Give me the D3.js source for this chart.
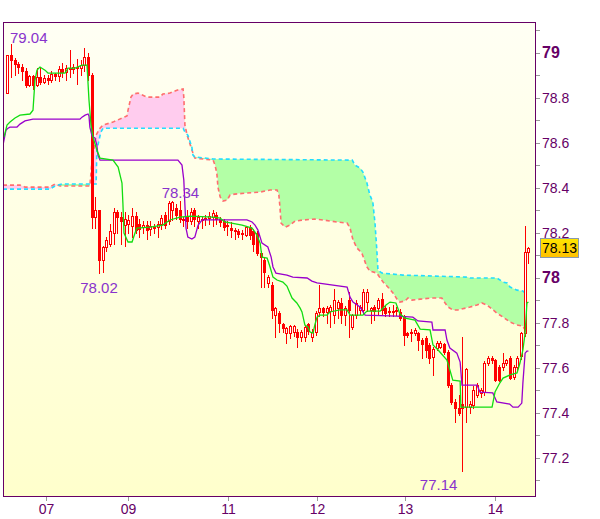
<!DOCTYPE html>
<html><head><meta charset="utf-8">
<script src="https://cdn.jsdelivr.net/npm/d3@7"></script>
<style>body{margin:0;background:#fff;}svg{display:block;font-family:"Liberation Sans",Arial,sans-serif;}</style>
</head><body><svg id="c" width="600" height="519"></svg>
<script>
// ---- DATA ----
const opens=[78.82,78.99,78.965,78.95,78.935,78.92,78.855,78.895,78.855,78.89,78.87,78.885,78.88,78.905,78.895,78.925,78.915,78.93,78.925,78.935,78.93,78.945,78.98,78.90,78.27,78.30,78.078,78.136,78.15,78.20,78.29,78.27,78.235,78.24,78.23,78.275,78.24,78.225,78.235,78.215,78.22,78.225,78.24,78.28,78.25,78.30,78.31,78.30,78.26,78.27,78.25,78.30,78.25,78.26,78.26,78.265,78.27,78.28,78.26,78.25,78.23,78.22,78.21,78.205,78.195,78.19,78.225,78.205,78.198,78.109,78.078,77.976,77.967,77.833,77.842,77.793,77.753,77.753,77.758,77.758,77.736,77.736,77.793,77.736,77.758,77.847,77.864,77.847,77.85,77.833,77.864,77.887,77.833,77.90,77.78,77.833,77.856,77.856,77.891,77.856,77.87,77.864,77.904,77.864,77.85,77.85,77.857,77.847,77.824,77.753,77.758,77.753,77.753,77.722,77.731,77.70,77.647,77.687,77.691,77.704,77.669,77.522,77.447,77.42,77.44,77.424,77.424,77.433,77.478,77.487,77.491,77.62,77.642,77.633,77.602,77.602,77.62,77.642,77.558,77.602,77.651,77.753,78.115];
const highs=[78.99,79.04,78.975,78.96,78.95,78.93,78.90,78.90,78.93,78.93,78.90,78.90,78.92,78.91,78.94,78.955,78.945,79.01,78.95,78.97,78.965,79.02,79.00,78.91,78.358,78.30,78.14,78.18,78.24,78.31,78.30,78.29,78.29,78.28,78.31,78.29,78.26,78.25,78.25,78.25,78.24,78.25,78.28,78.29,78.34,78.34,78.325,78.34,78.27,78.30,78.31,78.31,78.28,78.27,78.28,78.29,78.30,78.29,78.27,78.26,78.25,78.245,78.22,78.215,78.21,78.23,78.235,78.215,78.205,78.12,78.09,78.01,77.98,77.87,77.85,77.80,77.78,77.79,77.79,77.77,77.765,77.79,77.80,77.77,77.85,77.967,77.87,77.875,77.88,77.95,77.90,77.91,77.875,77.936,77.84,77.90,77.88,77.95,77.95,77.87,77.88,77.91,77.931,77.88,77.87,77.88,77.87,77.86,77.835,77.76,77.77,77.775,77.76,77.73,77.74,77.71,77.69,77.72,77.72,77.71,77.68,77.53,77.46,77.48,77.736,77.60,77.45,77.52,77.53,77.51,77.63,77.65,77.65,77.64,77.61,77.664,77.64,77.65,77.61,77.65,77.76,78.229,78.135];
const lows=[78.82,78.89,78.90,78.91,78.88,78.845,78.85,78.84,78.85,78.86,78.865,78.86,78.87,78.88,78.875,78.89,78.88,78.89,78.91,78.86,78.90,78.92,78.88,78.22,78.22,78.02,78.025,78.12,78.14,78.15,78.20,78.15,78.14,78.20,78.18,78.20,78.18,78.20,78.17,78.19,78.20,78.18,78.215,78.22,78.24,78.255,78.26,78.245,78.23,78.22,78.24,78.23,78.22,78.22,78.235,78.24,78.23,78.24,78.23,78.21,78.19,78.18,78.17,78.18,78.17,78.185,78.17,78.12,78.10,77.958,77.958,77.96,77.82,77.736,77.758,77.76,77.709,77.73,77.74,77.691,77.72,77.72,77.75,77.72,77.745,77.83,77.83,77.80,77.78,77.80,77.82,77.80,77.79,77.736,77.77,77.82,77.84,77.84,77.85,77.80,77.81,77.84,77.84,77.83,77.83,77.83,77.835,77.81,77.70,77.735,77.72,77.745,77.678,77.642,77.647,77.62,77.567,77.68,77.685,77.66,77.513,77.44,77.358,77.39,77.14,77.358,77.40,77.42,77.47,77.47,77.48,77.61,77.62,77.54,77.54,77.59,77.61,77.55,77.55,77.59,77.64,77.74,78.065];
const closes=[78.99,78.965,78.95,78.935,78.92,78.855,78.895,78.855,78.89,78.87,78.885,78.88,78.905,78.895,78.925,78.915,78.93,78.925,78.935,78.93,78.945,78.98,78.90,78.27,78.30,78.078,78.136,78.165,78.205,78.29,78.27,78.25,78.26,78.255,78.275,78.21,78.215,78.235,78.21,78.23,78.225,78.24,78.265,78.235,78.33,78.335,78.28,78.26,78.255,78.25,78.29,78.26,78.27,78.262,78.265,78.275,78.285,78.26,78.245,78.225,78.232,78.21,78.205,78.195,78.20,78.225,78.19,78.15,78.109,78.091,78.024,78.002,77.856,77.864,77.798,77.776,77.776,77.785,77.785,77.736,77.758,77.78,77.762,77.758,77.842,77.864,77.847,77.864,77.87,77.90,77.89,77.833,77.864,77.856,77.833,77.887,77.87,77.936,77.936,77.864,77.85,77.90,77.856,77.842,77.847,77.845,77.85,77.82,77.744,77.744,77.753,77.767,77.722,77.704,77.678,77.642,77.682,77.709,77.709,77.669,77.522,77.447,77.42,77.398,77.42,77.593,77.438,77.50,77.522,77.50,77.62,77.642,77.633,77.544,77.544,77.62,77.633,77.553,77.602,77.642,77.753,78.113,78.13];

// Ichimoku lines: [candle index, price]
const tenkan=[[-0.9,78.624],[-0.08,78.678],[0.74,78.691],[2.1,78.709],[3.46,78.722],[6.19,78.727],[7.0,78.744],[7.55,78.878],[8.09,78.922],[8.91,78.936],[10.27,78.922],[11.09,78.909],[15.72,78.909],[16.54,78.931],[18.45,78.931],[20.35,78.944],[21.72,78.944],[22.26,78.789],[22.8,78.678],[23.35,78.624],[24.4,78.567],[25.26,78.531],[28.8,78.522],[30.2,78.491],[31.25,78.42],[31.5,78.331],[31.8,78.198],[32.9,78.158],[34.0,78.158],[34.8,78.198],[35.3,78.22],[38.9,78.224],[42.4,78.233],[44.3,78.256],[47.1,78.269],[49.8,78.273],[56.1,78.269],[58.0,78.264],[59.3,78.247],[64.0,78.233],[66.7,78.22],[67.5,78.202],[68.0,78.189],[68.9,78.153],[69.4,78.091],[70.8,78.087],[71.6,78.047],[72.4,78.002],[73.5,77.989],[75.1,77.98],[76.2,77.962],[77.0,77.931],[77.6,77.909],[78.9,77.887],[79.8,77.864],[80.3,77.847],[81.1,77.789],[81.9,77.78],[82.5,77.758],[83.3,77.753],[83.8,77.789],[84.4,77.824],[85.2,77.833],[87.1,77.833],[87.9,77.847],[90.6,77.856],[92.6,77.856],[93.4,77.833],[96.9,77.833],[98.0,77.851],[101.6,77.851],[103.2,77.878],[104.3,77.891],[105.9,77.887],[107.0,77.838],[108.4,77.82],[111.1,77.811],[112.5,77.771],[115.2,77.767],[116.0,77.7],[117.4,77.678],[119.8,77.633],[120.6,77.589],[121.4,77.544],[123.4,77.54],[123.6,77.424],[132.1,77.424],[132.9,77.491],[134.2,77.531],[135.1,77.553],[137.0,77.567],[138.9,77.576],[139.7,77.62],[140.5,77.678],[141.1,77.753],[141.6,77.887],[142,77.891]];
const kijun=[[-1.17,78.589],[-0.9,78.611],[-0.35,78.656],[0.19,78.664],[0.74,78.669],[2.64,78.669],[3.46,78.682],[4.82,78.696],[7.0,78.704],[19.8,78.704],[20.35,78.713],[21.2,78.722],[22.0,78.727],[22.26,78.718],[22.5,78.669],[23.1,78.629],[23.9,78.62],[24.4,78.589],[24.7,78.544],[25.26,78.522],[46.5,78.522],[47.6,78.5],[48.1,78.433],[48.4,78.322],[48.7,78.22],[49.2,78.18],[50.3,78.171],[51.1,78.18],[52.0,78.233],[53.1,78.256],[65.3,78.256],[66.7,78.247],[67.5,78.233],[68.3,78.211],[69.4,78.153],[71.0,78.136],[71.9,78.091],[72.4,78.047],[73.2,78.02],[76.2,78.011],[77.8,78.002],[81.7,77.998],[83.0,77.984],[84.4,77.976],[92.6,77.958],[93.4,77.913],[94.2,77.891],[96.1,77.869],[97.5,77.833],[106.2,77.829],[110.5,77.824],[111.9,77.807],[115.7,77.802],[116.0,77.767],[119.3,77.767],[119.8,77.722],[120.6,77.687],[122.5,77.664],[123.4,77.624],[123.9,77.522],[128.0,77.522],[128.8,77.491],[132.3,77.487],[133.4,77.447],[136.9,77.438],[137.8,77.424],[139.2,77.424],[140.2,77.442],[140.5,77.531],[141.1,77.664],[141.6,77.673],[142,77.673]];
const spanB=[[-1.17,78.411],[3.46,78.411],[4.82,78.402],[11.6,78.402],[13.0,78.416],[14.4,78.407],[22.5,78.407],[23.1,78.522],[24.2,78.633],[25.26,78.664],[26.1,78.678],[28.8,78.691],[31.25,78.709],[32.6,78.718],[32.9,78.744],[33.7,78.802],[34.3,78.816],[35.6,78.82],[38.1,78.802],[41.6,78.802],[42.4,78.816],[44.3,78.82],[46.2,78.833],[47.9,78.838],[48.1,78.802],[48.4,78.678],[49.0,78.633],[50.3,78.567],[51.1,78.531],[56.1,78.522],[56.6,78.5],[57.1,78.464],[57.4,78.402],[58.0,78.358],[58.8,78.34],[59.9,78.344],[60.7,78.367],[62.0,78.371],[65.3,78.376],[68.9,78.38],[71.6,78.389],[73.5,78.389],[74.0,78.367],[74.3,78.313],[74.6,78.242],[75.7,78.224],[77.0,78.233],[78.4,78.251],[80.6,78.256],[83.8,78.26],[86.0,78.256],[89.8,78.247],[92.6,78.242],[93.4,78.22],[94.2,78.167],[95.3,78.131],[96.6,78.109],[98.0,78.047],[98.8,78.029],[100.7,78.02],[101.6,77.998],[102.4,77.98],[103.7,77.958],[105.1,77.931],[106.2,77.904],[107.0,77.891],[108.4,77.896],[109.2,77.909],[110.3,77.9],[112.5,77.904],[115.7,77.909],[118.4,77.909],[119.3,77.887],[120.1,77.869],[121.4,77.856],[122.8,77.856],[126.1,77.869],[128.0,77.878],[129.3,77.887],[130.7,77.878],[132.1,77.86],[133.4,77.842],[135.1,77.824],[137.0,77.802],[138.9,77.789],[140.5,77.784],[141.6,77.753]];
const spanA=[[-1.17,78.393],[11.6,78.393],[13.0,78.407],[14.9,78.416],[24.2,78.416],[24.4,78.567],[25.0,78.611],[25.5,78.647],[26.1,78.664],[47.9,78.664],[48.4,78.647],[49.2,78.633],[50.3,78.58],[50.6,78.544],[51.1,78.536],[56.1,78.527],[94.0,78.522],[94.7,78.5],[96.1,78.487],[96.9,78.469],[98.0,78.42],[98.8,78.367],[99.6,78.336],[100.2,78.242],[100.7,78.122],[101.0,78.033],[102.1,78.02],[107.8,78.011],[125.3,78.002],[126.1,77.998],[133.4,77.998],[135.1,77.98],[136.2,77.976],[137.0,77.958],[138.9,77.944],[140.5,77.94],[141.6,77.922]];

const yMinor=[77.1,77.2,77.3,77.4,77.5,77.6,77.7,77.8,77.9,78.0,78.1,78.2,78.3,78.4,78.5,78.6,78.7,78.8,78.9,79.0,79.1];
const yLabelVals=[77.2,77.4,77.6,77.8,78,78.2,78.4,78.6,78.8,79];
const yLabelText=["77.2","77.4","77.6","77.8","78","78.2","78.4","78.6","78.8","79"];
const xTickIdx=[10.5,33,60.2,84.3,108.4,132.8];
const xTickText=["07","09","11","12","13","14"];
const extremeIdx=[1,25,45,124];
const extremeVal=[79.04,78.02,78.34,77.14];
const lastPrice=78.13;

// ---- LAYOUT ----
const L=3,R=536,T=22,B=496;
const svg=d3.select('#c');
const x=d3.scaleLinear().domain([0,142]).range([7.3,528.4]);
const y=d3.scaleLinear().domain([77.029,79.136]).range([B,T]);
const defs=svg.append('defs');
const bg=defs.append('linearGradient').attr('id','bg').attr('x1',0).attr('y1',0).attr('x2',0).attr('y2',1);
bg.append('stop').attr('offset','0%').attr('stop-color','#fffff4');
bg.append('stop').attr('offset','100%').attr('stop-color','#ffffcc');
const pg=defs.append('linearGradient').attr('id','pbox').attr('x1',0).attr('y1',0).attr('x2',0).attr('y2',1);
pg.append('stop').attr('offset','0%').attr('stop-color','#ffe600');
pg.append('stop').attr('offset','100%').attr('stop-color','#ffc000');
defs.append('clipPath').attr('id','plot').append('rect').attr('x',L).attr('y',T).attr('width',R-L).attr('height',B-T);

svg.append('rect').attr('x',L).attr('y',T).attr('width',R-L).attr('height',B-T).attr('fill','url(#bg)');

const g=svg.append('g').attr('clip-path','url(#plot)');

// cloud
const fA=d3.scaleLinear().domain(spanA.map(d=>d[0])).range(spanA.map(d=>d[1]));
const fB=d3.scaleLinear().domain(spanB.map(d=>d[0])).range(spanB.map(d=>d[1]));
const grid=Array.from(new Set(spanA.map(d=>d[0]).concat(spanB.map(d=>d[0])))).sort((a,b)=>a-b);
defs.append('clipPath').attr('id','aboveB').append('path').attr('d',d3.area().x(d=>x(d)).y0(0).y1(d=>y(fB(d)))(grid));
defs.append('clipPath').attr('id','belowB').append('path').attr('d',d3.area().x(d=>x(d)).y0(d=>y(fB(d))).y1(519)(grid));
const between=d3.area().x(d=>x(d)).y0(d=>y(fA(d))).y1(d=>y(fB(d)))(grid);
g.append('g').attr('clip-path','url(#aboveB)').append('path').attr('d',between).attr('fill','#b3ffa6');
g.append('g').attr('clip-path','url(#belowB)').append('path').attr('d',between).attr('fill','#ffccee');

const line=d3.line().x(d=>x(d[0])).y(d=>y(d[1]));
g.append('path').attr('d',line(spanB)).attr('fill','none').attr('stroke','#ff6e6e').attr('stroke-width',1.6).attr('stroke-dasharray','4,3');
g.append('path').attr('d',line(spanA)).attr('fill','none').attr('stroke','#22ddff').attr('stroke-width',1.6).attr('stroke-dasharray','4,3');

// candles
const idx=d3.range(opens.length);
const cg=g.append('g');
idx.forEach(i=>{
  const cx=Math.round(x(i));
  const o=opens[i],c=closes[i];
  cg.append('line').attr('x1',cx+0.5).attr('x2',cx+0.5).attr('y1',Math.round(y(highs[i]))).attr('y2',Math.round(y(lows[i]))+1)
    .attr('stroke','#ff0000').attr('stroke-width',1);
  const top=Math.round(y(Math.max(o,c))), bot=Math.round(y(Math.min(o,c)));
  if(c>=o){
    cg.append('rect').attr('x',cx-0.5).attr('y',top+0.5).attr('width',2).attr('height',Math.max(1,bot-top))
      .attr('fill','#ffffff').attr('stroke','#ff0000').attr('stroke-width',1);
  } else {
    cg.append('rect').attr('x',cx-1).attr('y',top).attr('width',3).attr('height',Math.max(1,bot-top+1)).attr('fill','#ff0000');
  }
});

g.append('path').attr('d',line(kijun)).attr('fill','none').attr('stroke','#9900cc').attr('stroke-width',1.3);
g.append('path').attr('d',line(tenkan)).attr('fill','none').attr('stroke','#11dd11').attr('stroke-width',1.3);

// extreme labels
const exAnchor=['start','middle','middle','end'];
const exDx=[-1,0,8,-5];
const exDy=[-1,20,-3,19];
extremeIdx.forEach((ei,k)=>{
  svg.append('text').attr('x',x(ei)+exDx[k]).attr('y',y(extremeVal[k])+exDy[k]).attr('text-anchor',exAnchor[k])
    .attr('font-size',15).attr('fill','#8833cc').text(extremeVal[k].toFixed(2));
});

// border
svg.append('rect').attr('x',L+0.5).attr('y',T+0.5).attr('width',R-L-1).attr('height',B-T).attr('fill','none').attr('stroke','#660066').attr('stroke-width',1);

// right axis
yMinor.forEach(v=>{
  svg.append('line').attr('x1',R).attr('x2',R+4).attr('y1',Math.round(y(v))+0.5).attr('y2',Math.round(y(v))+0.5).attr('stroke','#999').attr('stroke-width',1);
});
yLabelVals.forEach((v,k)=>{
  const major=(yLabelText[k].indexOf('.')<0);
  svg.append('text').attr('x',542).attr('y',y(v)).attr('dy','0.36em').attr('font-size',major?16:14)
    .attr('font-weight',major?'bold':'normal').attr('fill','#660066').text(yLabelText[k]);
});
// x axis
xTickIdx.forEach((t,k)=>{
  const px=Math.round(x(t))+0.5;
  svg.append('line').attr('x1',px).attr('x2',px).attr('y1',B+1).attr('y2',B+5).attr('stroke','#999');
  svg.append('text').attr('x',px).attr('y',514).attr('text-anchor','middle').attr('font-size',14).attr('fill','#660066').text(xTickText[k]);
});
// last price box
const py=y(lastPrice);
svg.append('rect').attr('x',540.5).attr('y',Math.round(py)-9.5).attr('width',38).attr('height',19).attr('fill','url(#pbox)').attr('stroke','#8a9aab');
svg.append('text').attr('x',559.5).attr('y',py).attr('dy','0.36em').attr('text-anchor','middle').attr('font-size',14).attr('fill','#000').text(lastPrice.toFixed(2));
</script></body></html>
